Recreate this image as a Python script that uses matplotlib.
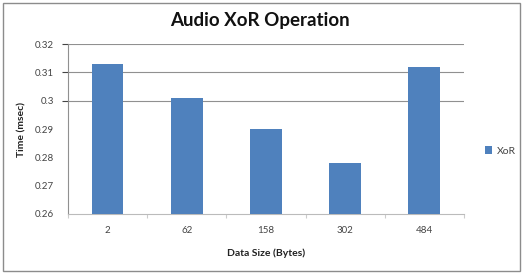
import matplotlib
matplotlib.use("Agg")
import matplotlib.pyplot as plt
from matplotlib.patches import Rectangle
import numpy as np

categories = ["2", "62", "158", "302", "484"]
xor_values = [0.313, 0.301, 0.290, 0.278, 0.312]
yticks = [0.26, 0.27, 0.28, 0.29, 0.30, 0.31, 0.32]
ytick_labels = ["0.26", "0.27", "0.28", "0.29", "0.3", "0.31", "0.32"]

plt.rcParams['font.family'] = ['Lato', 'DejaVu Sans']

fig = plt.figure(figsize=(5.23, 2.74), dpi=100)
ax = fig.add_axes([0.130, 0.219, 0.757, 0.620])

x = np.arange(len(categories))
ax.bar(x, xor_values, width=0.40, color="#4F81BD", label="XoR", zorder=3)
ax.set_xlim(-0.5, len(categories) - 0.5)
ax.set_ylim(0.26, 0.32)
ax.set_yticks(yticks)
ax.set_yticklabels(ytick_labels)
ax.set_xticks(x)
ax.set_xticklabels(categories)
ax.set_xticks(np.arange(-0.5, len(categories) + 0.5, 1), minor=True)

ax.tick_params(axis='y', labelsize=7, colors="#444444", length=4, width=0.8, pad=6)
ax.tick_params(axis='x', which='major', labelsize=7, colors="#444444", length=0, pad=9)
ax.tick_params(axis='x', which='minor', length=3, width=0.8, color="#cccccc")

for s in ["top", "right"]:
    ax.spines[s].set_visible(False)
ax.spines["left"].set_color("#909090")
ax.spines["bottom"].set_color("#bbbbbb")
ax.spines["left"].set_linewidth(0.8)
ax.spines["bottom"].set_linewidth(0.8)

ax.yaxis.grid(True, color="#909090", linewidth=0.8, zorder=0)
for t, val in zip(ax.yaxis.get_major_ticks(), yticks):
    if val < 0.295:
        t.gridline.set_visible(False)
        t.tick1line.set_visible(False)

ax.set_ylabel("Time (msec)", fontsize=7.5, fontweight="bold", color="#222222", labelpad=6)
ax.set_xlabel("Data Size (Bytes)", fontsize=7.5, fontweight="bold", color="#222222", labelpad=9)

fig.suptitle("Audio XoR Operation", fontsize=13.5, fontweight="bold", x=0.497, y=0.955, color="#111111")

leg = ax.legend(loc="center left", bbox_to_anchor=(1.03, 0.37), frameon=False,
                fontsize=7.5, handlelength=0.7, handleheight=0.7, handletextpad=0.4)
for t in leg.get_texts():
    t.set_color("#444444")

fig.patches.append(Rectangle((0.006, 0.01), 0.988, 0.98, transform=fig.transFigure,
                             fill=False, edgecolor="#8c8c8c", linewidth=1.0))

fig.savefig("out.png", dpi=100)
